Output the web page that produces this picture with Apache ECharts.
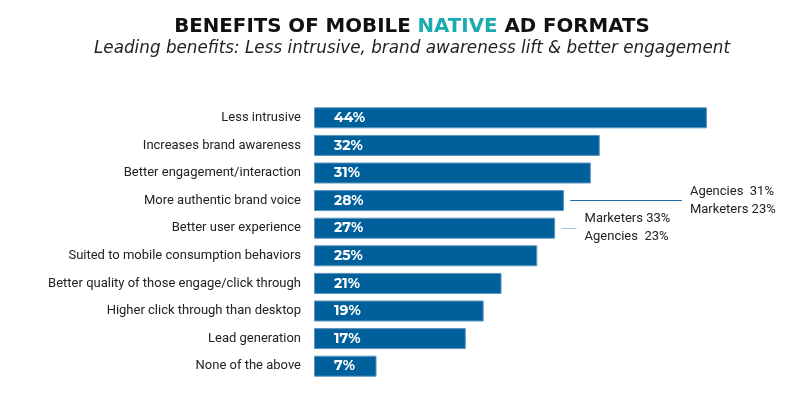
<!DOCTYPE html>
<html>
<head>
<meta charset="utf-8">
<script src="https://cdn.jsdelivr.net/npm/echarts@6/dist/echarts.min.js"></script>
<style>
  html, body { margin: 0; padding: 0; background: #fff; }
  #chart { width: 800px; height: 398px; }
</style>
</head>
<body>
<div id="chart"></div>
<script>
// benefits, top to bottom
const categories = [
  'Less intrusive',
  'Increases brand awareness',
  'Better engagement/interaction',
  'More authentic brand voice',
  'Better user experience',
  'Suited to mobile consumption behaviors',
  'Better quality of those engage/click through',
  'Higher click through than desktop',
  'Lead generation',
  'None of the above'
]
const values = [44, 32, 31, 28, 27, 25, 21, 19, 17, 7]

// callouts: [category, line start, line end, text]
const noteVoice = ['More authentic brand voice', 28.7, 41.2, 'Agencies  31%\nMarketers 23%']
const noteUx = ['Better user experience', 27.7, 29.4, 'Marketers 33%\nAgencies  23%']

const chart = echarts.init(document.getElementById('chart'))

function callout(note, color) {
  return [
    { coord: [note[1], note[0]] },
    {
      coord: [note[2], note[0]],
      label: { formatter: note[3] },
      lineStyle: { color: color }
    }
  ]
}

chart.setOption({
  animation: false,
  title: [{
    text: 'BENEFITS OF MOBILE {n|NATIVE} AD FORMATS',
    left: 407,
    textAlign: 'center',
    top: 12,
    textStyle: {
      fontFamily: '"DejaVu Sans", sans-serif',
      fontSize: 19.8,
      fontWeight: 'bold',
      color: '#111',
      rich: {
        n: { fontFamily: '"DejaVu Sans", sans-serif', fontSize: 19.8, fontWeight: 'bold', color: '#1aaab0' }
      }
    }
  }, {
    text: 'Leading benefits: Less intrusive, brand awareness lift & better engagement',
    left: 407,
    textAlign: 'center',
    top: 35,
    textStyle: {
      fontFamily: '"DejaVu Sans", sans-serif',
      fontSize: 16.8,
      fontStyle: 'italic',
      fontWeight: 'normal',
      color: '#222'
    }
  }],
  grid: { left: 314, right: 39.5, top: 104, bottom: 18 },
  xAxis: {
    type: 'value',
    min: 0,
    max: 50,
    show: false
  },
  yAxis: {
    type: 'category',
    inverse: true,
    data: categories,
    axisLine: { show: false },
    axisTick: { show: false },
    axisLabel: {
      margin: 13,
      fontFamily: 'Roboto, sans-serif',
      fontSize: 13,
      color: '#222'
    }
  },
  series: [{
    type: 'bar',
    data: values,
    barWidth: 21,
    itemStyle: {
      color: '#00609b',
      borderColor: '#5d95bf',
      borderWidth: 1
    },
    label: {
      show: true,
      position: 'insideLeft',
      distance: 20,
      formatter: '{c}%',
      fontFamily: 'Montserrat, "Open Sans", sans-serif',
      fontSize: 14,
      fontWeight: 'bold',
      color: '#fff'
    },
    markLine: {
      silent: true,
      symbol: 'none',
      lineStyle: { type: 'solid', width: 1 },
      label: {
        position: 'end',
        distance: 8,
        align: 'left',
        fontFamily: 'Roboto, sans-serif',
        fontSize: 13,
        lineHeight: 18,
        color: '#222'
      },
      data: [
        callout(noteVoice, '#1a6da6'),
        callout(noteUx, '#9cc7e6')
      ]
    }
  }]
})
</script>
</body>
</html>
